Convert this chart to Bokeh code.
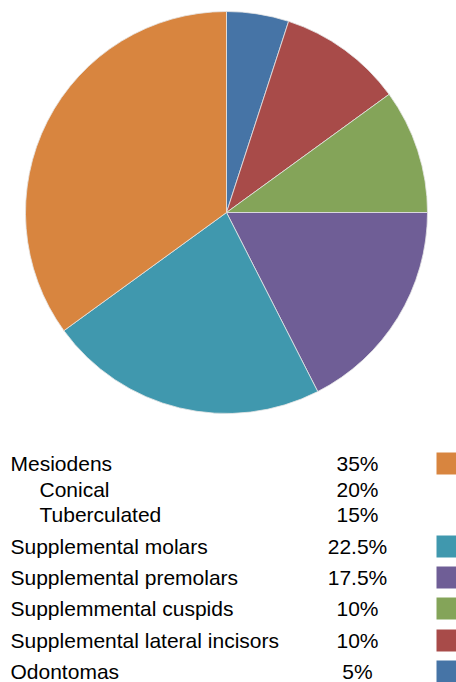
import math
from bokeh.plotting import figure
from bokeh.models import Range1d, ColumnDataSource
from bokeh.core.properties import value
from bokeh.embed import file_html
from bokeh.resources import INLINE

# ---- data ----
pie_names = ["Odontomas", "Supplemental lateral incisors", "Supplemmental cuspids",
             "Supplemental premolars", "Supplemental molars", "Mesiodens"]
pie_values = [5, 10, 10, 17.5, 22.5, 35]
pie_colors = ["#4674A6", "#A84B49", "#84A459", "#6F5E96", "#4098AE", "#D8853F"]

table_labels = ["Mesiodens", "Conical", "Tuberculated", "Supplemental molars",
                "Supplemental premolars", "Supplemmental cuspids",
                "Supplemental lateral incisors", "Odontomas"]
table_values = [35, 20, 15, 22.5, 17.5, 10, 10, 5]
table_indent = [0, 1, 1, 0, 0, 0, 0, 0]
table_swatch = ["#D8853F", None, None, "#4098AE", "#6F5E96", "#84A459", "#A84B49", "#4674A6"]

# ---- layout ----
W, H = 456, 682
p = figure(width=W, height=H, output_backend="svg", toolbar_location=None,
           x_range=Range1d(0, W), y_range=Range1d(-H, 0),
           min_border=0)
p.axis.visible = False
p.grid.visible = False
p.outline_line_color = None
p.background_fill_color = "white"

cx, cy, r = 226, -212, 201
total = sum(pie_values)
starts, ends = [], []
acc = 0.0
for v in pie_values:
    a0 = math.pi / 2 - 2 * math.pi * acc / total
    acc += v
    a1 = math.pi / 2 - 2 * math.pi * acc / total
    starts.append(a0)
    ends.append(a1)
src = ColumnDataSource(dict(name=pie_names, start=starts, end=ends, color=pie_colors))
p.wedge(x=cx, y=cy, radius=r, start_angle="start", end_angle="end", direction="clock",
        fill_color="color", line_color="#e6e6e6", line_width=0.8, source=src)

row_y = [-463, -489, -514, -546, -577, -608, -640, -671]
lx = [10 + 29 * i for i in table_indent]
pct = [f"{v:g}%" for v in table_values]
tsrc = ColumnDataSource(dict(x=lx, y=row_y, t=table_labels, pct=pct))
font = value("Liberation Sans")
p.text(x="x", y="y", text="t", source=tsrc, text_font=font, text_font_size="21px",
       text_baseline="middle", text_align="left", text_color="#000000")
p.text(x=357, y="y", text="pct", source=tsrc, text_font=font, text_font_size="21px",
       text_baseline="middle", text_align="center", text_color="#000000")

sx = [447] * 8
ssrc = ColumnDataSource(dict(
    x=[x for x, c in zip(sx, table_swatch) if c],
    y=[y for y, c in zip(row_y, table_swatch) if c],
    c=[c for c in table_swatch if c]))
p.rect(x="x", y="y", width=22, height=22, fill_color="c", line_color=None, source=ssrc)

open("out.html", "w").write(file_html(p, INLINE))
